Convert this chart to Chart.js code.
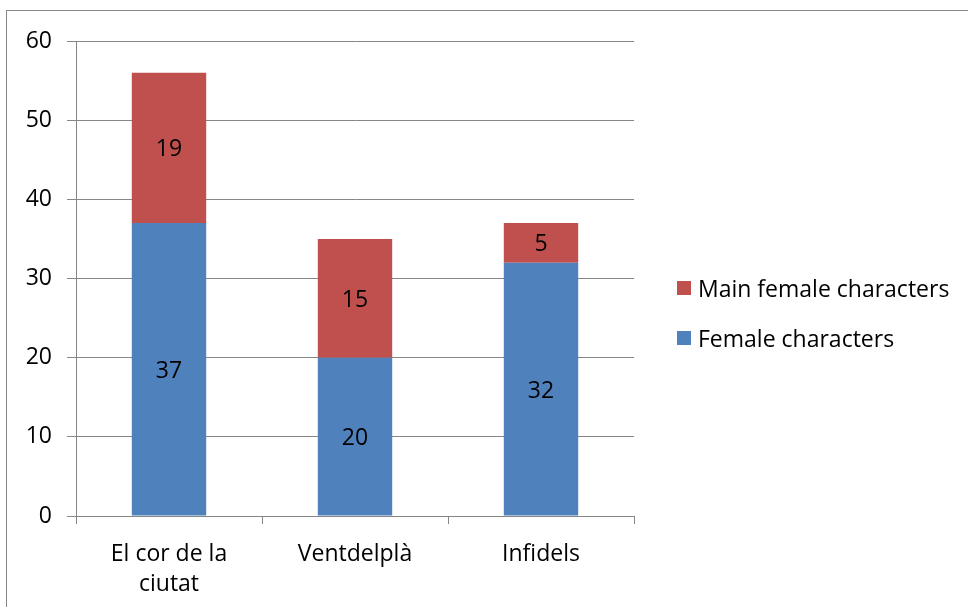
<!DOCTYPE html>
<html>
<head>
<meta charset="utf-8">
<script src="https://cdn.jsdelivr.net/npm/chart.js@4.4.1/dist/chart.umd.min.js"></script>
<style>
  html, body { margin:0; padding:0; background:#fff; overflow:hidden; }
  body { width:968px; height:607px; position:relative; font-family:'Open Sans', sans-serif; }
  #frame { position:absolute; left:6px; top:10px; width:980px; height:640px; border:1px solid #868686; box-sizing:border-box; }
  #wrap { position:absolute; left:0; top:0; width:968px; height:607px; }
  #legend { position:absolute; left:677px; top:0; font-size:23px; color:#000; }
  .lg { position:absolute; white-space:nowrap; display:flex; align-items:center; height:30px; }
  .lg span.sw { display:inline-block; width:14px; height:14px; margin-right:7px; }
</style>
</head>
<body>
<div id="frame"></div>
<div id="wrap"><canvas id="c" width="968" height="607"></canvas></div>
<div id="legend"></div>
<script>
// ─── Data ─────────────────────────────────────────────────────────────────────
const categories = [['El cor de la', 'ciutat'], 'Ventdelplà', 'Infidels'];
const femaleChars = [37, 20, 32];
const mainFemaleChars = [19, 15, 5];
const yTicks = [0, 10, 20, 30, 40, 50, 60];

const C = { blue:'#4F81BD', red:'#C0504D', grid:'#868686', font:"'Open Sans', sans-serif" };

Chart.defaults.font.family = C.font;
Chart.defaults.font.size = 23;
Chart.defaults.color = '#000';

// labels in the middle of every segment
const segLabels = {
  id: 'segLabels',
  afterDatasetsDraw(chart) {
    const ctx = chart.ctx;
    ctx.save();
    ctx.font = '23px ' + C.font;
    ctx.fillStyle = '#000';
    ctx.textAlign = 'center';
    ctx.textBaseline = 'middle';
    chart.data.datasets.forEach((ds, i) => {
      chart.getDatasetMeta(i).data.forEach((el, j) => {
        const p = el.getProps(['x', 'y', 'base'], true);
        ctx.fillText(String(ds.data[j]), p.x, (p.y + p.base) / 2 + 2);
      });
    });
    ctx.restore();
  }
};

const chart = new Chart(document.getElementById('c'), {
  type: 'bar',
  data: {
    labels: categories,
    datasets: [
      { label:'Female characters', data:femaleChars, backgroundColor:C.blue },
      { label:'Main female characters', data:mainFemaleChars, backgroundColor:C.red },
    ]
  },
  options: {
    responsive:false, animation:false,
    layout:{ padding:{ left:0, top:41, right:334, bottom:0 } },
    datasets:{ bar:{ categoryPercentage:1, barPercentage:0.4 } },
    plugins:{ legend:{ display:false }, tooltip:{ enabled:false } },
    scales:{
      x:{
        stacked:true,
        grid:{ offset:true, drawOnChartArea:false, drawTicks:true, tickLength:8, color:C.grid, lineWidth:1 },
        border:{ color:C.grid, width:1 },
        ticks:{ padding:16, maxRotation:0, font:{ size:23, lineHeight:1.3 } },
        afterFit: s => { s.height = 91; }
      },
      y:{
        stacked:true, min:0, max:60,
        afterBuildTicks: s => { s.ticks = yTicks.map(v => ({ value:v })); },
        grid:{ color:C.grid, lineWidth:1, tickLength:9 },
        border:{ color:C.grid, width:1 },
        ticks:{ padding:15 },
        afterFit: s => { s.width = 76; }
      }
    }
  },
  plugins:[segLabels]
});

// legend, reversed like the original
const legend = document.getElementById('legend');
[[1, 288], [0, 338]].forEach(([i, cy]) => {
  const ds = chart.data.datasets[i];
  const row = document.createElement('div');
  row.className = 'lg';
  row.style.top = (cy - 15) + 'px';
  row.innerHTML = '<span class="sw" style="background:' + ds.backgroundColor + '"></span>' + ds.label;
  legend.appendChild(row);
});
</script>
</body>
</html>
